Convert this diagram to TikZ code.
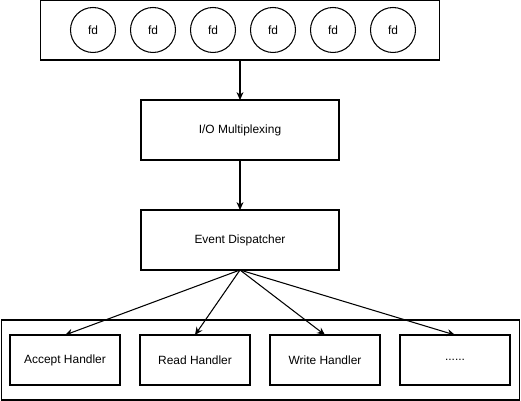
\documentclass[tikz,border=0pt]{standalone}
\usepackage{fontspec}
\setmainfont{Liberation Sans}
\usetikzlibrary{arrows.meta}
\tikzstyle{fd}=[circle,draw,minimum size=0.9cm,inner sep=0pt,outer sep=0pt]
\tikzstyle{block}=[rectangle,draw,minimum width=3.96cm,minimum height=1.2cm,inner sep=0pt,outer sep=0pt]
\tikzstyle{handler}=[rectangle,draw,minimum width=2.2cm,minimum height=1cm,inner sep=0pt,outer sep=0pt]
\tikzstyle{frame}=[rectangle,draw,inner sep=0pt,outer sep=0pt]

\begin{document}
\begin{tikzpicture}[x=0.02cm, y=-0.02cm, line width=0.6pt, >={Stealth[length=4.5pt,width=4pt]}, font=\fontsize{6.8}{8}\selectfont]
\useasboundingbox (0, 0) rectangle (521, 401);

% fd pool
\node[frame, minimum width=8cm, minimum height=1.2cm] at (240, 30) (pool) {};
\foreach \i/\x in {1/93, 2/153, 3/213, 4/273, 5/333, 6/393}
  \node[fd] at (\x, 30) (fd\i) {fd};

\node[block] at (240, 130) (mux) {I/O Multiplexing};
\node[block] at (240, 240) (disp) {Event Dispatcher};

% handlers
\node[frame, minimum width=10.38cm, minimum height=1.6cm] at (260.5, 360) (pool2) {};
\node[handler] at (65, 360) (accept) {Accept Handler};
\node[handler] at (195, 360) (read) {Read Handler};
\node[handler] at (325, 360) (write) {Write Handler};
\node[handler] at (455, 360) (more) {......};

\draw[->] (pool.south) -- (mux.north);
\draw[->] (mux.south) -- (disp.north);
\draw[->] (disp.south) -- (accept.north);
\draw[->] (disp.south) -- (read.north);
\draw[->] (disp.south) -- (write.north);
\draw[->] (disp.south) -- (more.north);
\end{tikzpicture}
\end{document}
